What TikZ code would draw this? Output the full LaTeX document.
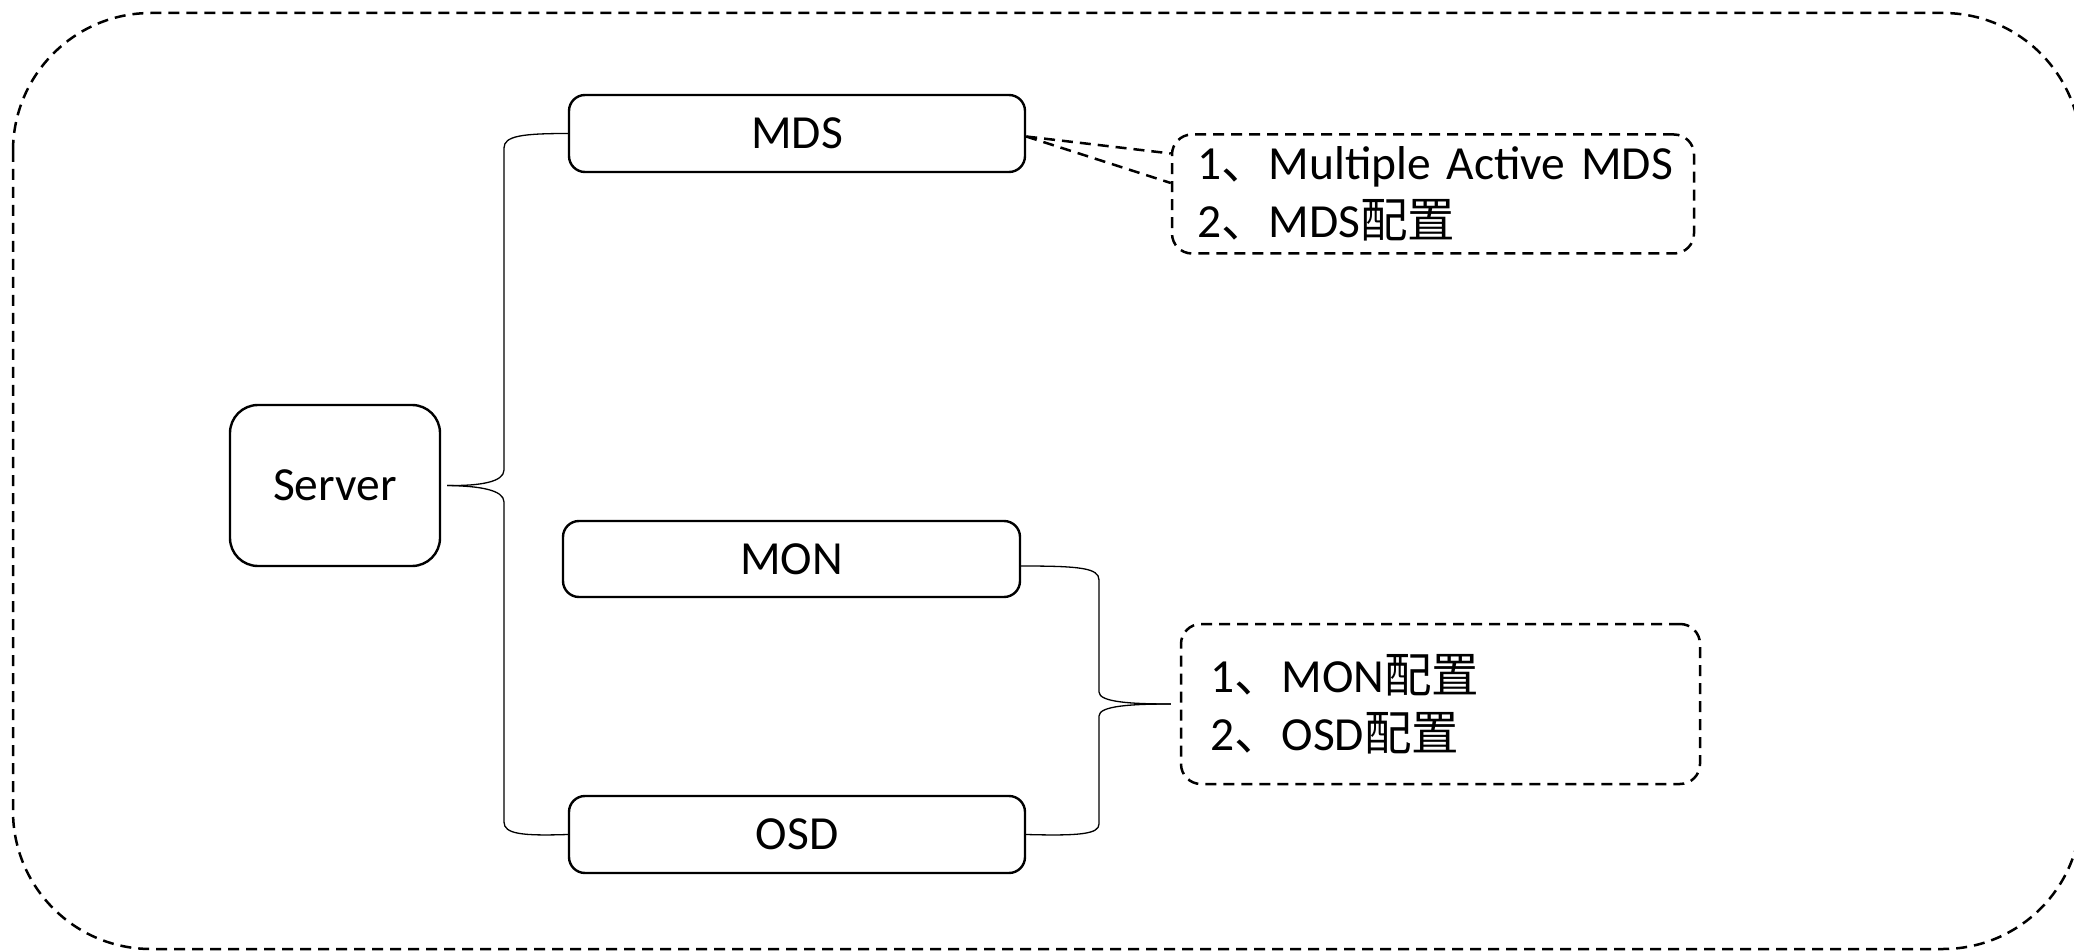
\documentclass[tikz,border=0pt]{standalone}
\usepackage{fontspec}
\setmainfont{Carlito}
\newfontfamily\cjk{Noto Sans CJK SC}
\begin{document}
\begin{tikzpicture}[x=0.5pt,y=-0.5pt,
  every node/.style={font=\fontsize{23.75}{29}\selectfont},
  unit/.style={draw, line width=1.2pt, rounded corners=8pt, minimum width=228pt,
    minimum height=38.5pt, inner sep=0pt},
  dashline/.style={line width=1.25pt, dash pattern=on 5.5pt off 3.5pt},
  note/.style={draw, dashline, rounded corners=10pt, align=left, inner ysep=0pt},
  brace/.style={line width=0.65pt},
  link/.style={dashline}]
\useasboundingbox (0,0) rectangle (2074,952);
\clip (0,0) rectangle (2074,952);
% outer frame
\draw[dashline, rounded corners=69pt] (13,13) rectangle (2081,949);

% nodes
\node[draw, line width=1.2pt, rounded corners=14pt, minimum width=105pt,
  minimum height=80.5pt, inner sep=0pt] (server) at (335,485.5) {Server};
\node[unit] (mds) at (797,133.5) {MDS};
\node[unit, minimum width=228.5pt, minimum height=38pt] (mon) at (791.5,559) {MON};
\node[unit] (osd) at (797,834.5) {OSD};

\node[note, minimum width=261pt, minimum height=59.5pt, text width=236pt,
  inner xsep=12.5pt] (note1) at (1433,194)
  {\mbox{1{\cjk 、}Multiple Active MDS}\\2{\cjk 、}MDS{\cjk 配置}};
\node[note, minimum width=259.5pt, minimum height=80pt, text width=230.5pt,
  inner xsep=14.5pt] (note2) at (1440.5,704)
  {1{\cjk 、}MON{\cjk 配置}\\2{\cjk 、}OSD{\cjk 配置}};

% brace joining the server to MDS and OSD
\coordinate (stip) at ([xshift=3pt]server.east);
\draw[brace] (mds.west) .. controls (522,133.5) and (504,136) .. (504,148)
  -- (504,470) .. controls (504,482) and (480,486) .. (stip);
\draw[brace] (stip) .. controls (480,486) and (504,490) .. (504,502)
  -- (504,822) .. controls (504,834) and (522,836) .. (osd.west);

% brace joining MON and OSD to their note
\coordinate (ntip) at ([xshift=-4.5pt]note2.west);
\coordinate (mone) at ([yshift=-3.5pt]mon.east);
\draw[brace] (mone) .. controls (1080,566) and (1099,568) .. (1099,580)
  -- (1099,692) .. controls (1099,702) and (1130,704) .. (ntip);
\draw[brace] (ntip) .. controls (1130,704) and (1099,706) .. (1099,716)
  -- (1099,824) .. controls (1099,834) and (1080,836) .. (osd.east);

% dashed links from MDS to its note
\coordinate (mdse) at ([yshift=-1.5pt]mds.east);
\draw[link] (mdse) -- ([yshift=20.25pt]note1.west);
\draw[link] (mdse) -- ([yshift=5.5pt]note1.west);
\end{tikzpicture}
\end{document}
